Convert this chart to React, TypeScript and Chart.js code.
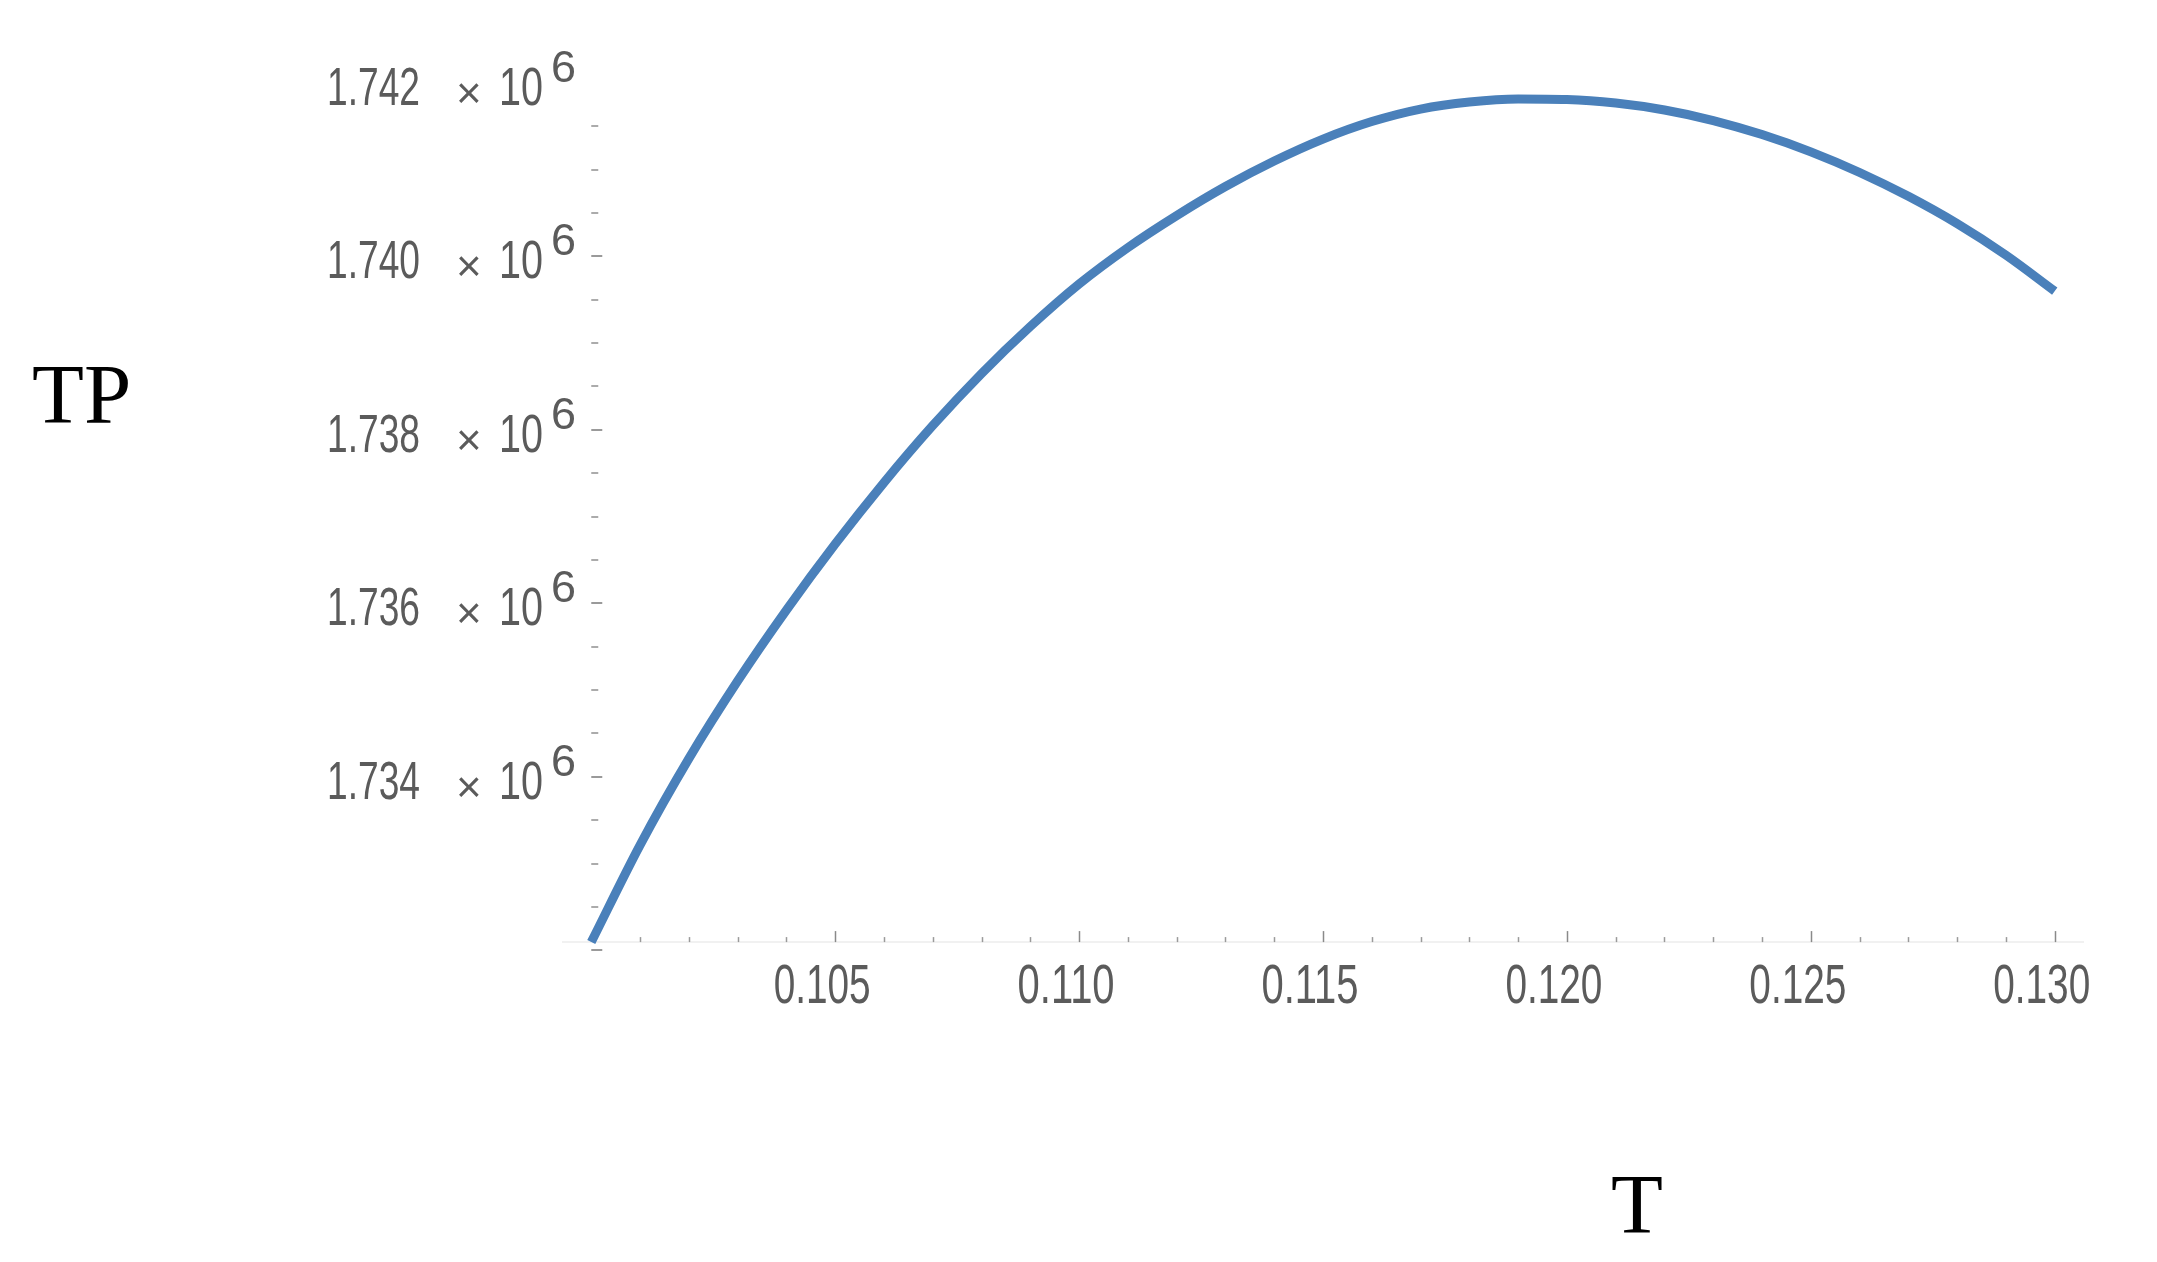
import React, { useEffect, useRef } from "react";
import { Chart, registerables } from "chart.js";

Chart.register(...registerables);

// ---- data ----
const T = [
  0.1, 0.101, 0.102, 0.103, 0.104, 0.105, 0.106, 0.107, 0.108, 0.109, 0.11,
  0.111, 0.112, 0.113, 0.114, 0.115, 0.116, 0.117, 0.118, 0.119, 0.12,
  0.121, 0.122, 0.123, 0.124, 0.125, 0.126, 0.127, 0.128, 0.129, 0.13,
];
const TP = [
  1732095, 1733213, 1734210, 1735104, 1735922, 1736683, 1737392, 1738049,
  1738649, 1739191, 1739681, 1740101, 1740470, 1740805, 1741099, 1741352,
  1741554, 1741698, 1741779, 1741814, 1741808, 1741767, 1741687, 1741566,
  1741404, 1741205, 1740967, 1740692, 1740377, 1740014, 1739599,
];

const xMajorTicks = [0.105, 0.11, 0.115, 0.12, 0.125, 0.13];
const xTickLabels = ["0.105", "0.110", "0.115", "0.120", "0.125", "0.130"];
const xMinorTicks = [
  0.101, 0.102, 0.103, 0.104, 0.106, 0.107, 0.108, 0.109, 0.111, 0.112, 0.113,
  0.114, 0.116, 0.117, 0.118, 0.119, 0.121, 0.122, 0.123, 0.124, 0.126, 0.127,
  0.128, 0.129,
];

const yMajorTicks = [1732000, 1734000, 1736000, 1738000, 1740000];
const yLabelValues = [1734000, 1736000, 1738000, 1740000, 1742000];
const yTickLabels = ["1.734", "1.736", "1.738", "1.740", "1.742"];
const yMinorTicks = [
  1732500, 1733000, 1733500, 1734500, 1735000, 1735500, 1736500, 1737000,
  1737500, 1738500, 1739000, 1739500, 1740500, 1741000, 1741500,
];

const xAxisTitle = "T";
const yAxisTitle = "TP";
const yExponentBase = "× 10";
const yExponent = "6";

// ---- styling / ranges ----
const X_MIN = 0.0994;
const X_MAX = 0.1306;
const Y_MIN = 1731900;
const Y_MAX = 1742010;
const AXIS_ORIGIN_X = 0.1;
const AXIS_ORIGIN_Y = 1732095;

const LINE_COLOR = "#4a80ba";
const LABEL_COLOR = "#5b5b5b";
const LABEL_FONT = "Liberation Sans, Arial, sans-serif";
const TITLE_FONT = "Liberation Serif, Times New Roman, serif";

const axesPlugin = {
  id: "mmaAxes",
  beforeDatasetsDraw(chart: any) {
    const ctx = chart.ctx as CanvasRenderingContext2D;
    const xs = chart.scales.x;
    const ys = chart.scales.y;
    const axY = ys.getPixelForValue(AXIS_ORIGIN_Y);
    const axX = xs.getPixelForValue(AXIS_ORIGIN_X);
    ctx.save();
    // x axis line (very light)
    ctx.strokeStyle = "#ededed";
    ctx.lineWidth = 1.5;
    ctx.beginPath();
    ctx.moveTo(chart.chartArea.left, axY);
    ctx.lineTo(chart.chartArea.right, axY);
    ctx.stroke();

    // x ticks (inward / upward)
    ctx.lineWidth = 1.5;
    ctx.strokeStyle = "#8a8a8a";
    for (const v of xMajorTicks) {
      const px = Math.round(xs.getPixelForValue(v)) + 0.5;
      ctx.beginPath();
      ctx.moveTo(px, axY);
      ctx.lineTo(px, axY - 11);
      ctx.stroke();
    }
    ctx.strokeStyle = "#9a9a9a";
    for (const v of xMinorTicks) {
      const px = Math.round(xs.getPixelForValue(v)) + 0.5;
      ctx.beginPath();
      ctx.moveTo(px, axY);
      ctx.lineTo(px, axY - 5);
      ctx.stroke();
    }
    // y ticks (inward / rightward)
    ctx.strokeStyle = "#9a9a9a";
    ctx.lineWidth = 2;
    for (const v of yMajorTicks) {
      const py = Math.round(ys.getPixelForValue(v));
      ctx.beginPath();
      ctx.moveTo(axX, py);
      ctx.lineTo(axX + 11, py);
      ctx.stroke();
    }
    ctx.strokeStyle = "#ababab";
    for (const v of yMinorTicks) {
      const py = Math.round(ys.getPixelForValue(v));
      ctx.beginPath();
      ctx.moveTo(axX, py);
      ctx.lineTo(axX + 7, py);
      ctx.stroke();
    }
    ctx.restore();
  },
  afterDatasetsDraw(chart: any) {
    const ctx = chart.ctx as CanvasRenderingContext2D;
    const xs = chart.scales.x;
    const ys = chart.scales.y;
    const axY = ys.getPixelForValue(AXIS_ORIGIN_Y);
    ctx.save();
    ctx.fillStyle = LABEL_COLOR;
    ctx.textBaseline = "alphabetic";

    // x tick labels
    ctx.font = `55px ${LABEL_FONT}`;
    ctx.textAlign = "center";
    xMajorTicks.forEach((v, i) => {
      const px = xs.getPixelForValue(v) - 13;
      ctx.fillText(xTickLabels[i], px, axY + 61, 97);
    });

    // y tick labels: "1.742  × 10^6"
    yLabelValues.forEach((v, i) => {
      const py = ys.getPixelForValue(v);
      ctx.textAlign = "left";
      ctx.font = `54px ${LABEL_FONT}`;
      ctx.fillText(yTickLabels[i], 327, py + 22, 93);
      ctx.font = `44px ${LABEL_FONT}`;
      ctx.fillText(yExponentBase.slice(0, 1), 456, py + 25, 28);
      ctx.font = `54px ${LABEL_FONT}`;
      ctx.fillText(yExponentBase.slice(2), 499, py + 22, 44);
      ctx.font = `45px ${LABEL_FONT}`;
      ctx.fillText(yExponent, 551, py - 1, 25);
    });

    // axis titles
    ctx.fillStyle = "#000";
    ctx.font = `85px ${TITLE_FONT}`;
    ctx.textAlign = "left";
    ctx.fillText(yAxisTitle, 32, 423);
    ctx.textAlign = "center";
    ctx.fillText(xAxisTitle, 1637, 1233);
    ctx.restore();
  },
};

export default function App() {
  const ref = useRef<HTMLCanvasElement>(null);
  useEffect(() => {
    const canvas = ref.current;
    if (!canvas) return;
    const chart = new Chart(canvas, {
      type: "line",
      data: {
        datasets: [
          {
            data: T.map((t, i) => ({ x: t, y: TP[i] })),
            borderColor: LINE_COLOR,
            borderWidth: 9,
            pointRadius: 0,
            fill: false,
            cubicInterpolationMode: "monotone",
            borderCapStyle: "butt",
          },
        ],
      },
      options: {
        responsive: false,
        animation: false,
        devicePixelRatio: 1,
        layout: { padding: { left: 562, right: 73, top: 82, bottom: 303 } },
        plugins: {
          legend: { display: false },
          tooltip: { enabled: false },
          title: { display: false },
        },
        scales: {
          x: { type: "linear", display: false, min: X_MIN, max: X_MAX },
          y: { type: "linear", display: false, min: Y_MIN, max: Y_MAX },
        },
      } as any,
      plugins: [axesPlugin],
    });
    return () => chart.destroy();
  }, []);
  return (
    <div
      style={{
        position: "fixed",
        left: 0,
        top: 0,
        width: 2157,
        height: 1262,
        background: "#ffffff",
      }}
    >
      <canvas ref={ref} width={2157} height={1262} style={{ display: "block" }} />
    </div>
  );
}
